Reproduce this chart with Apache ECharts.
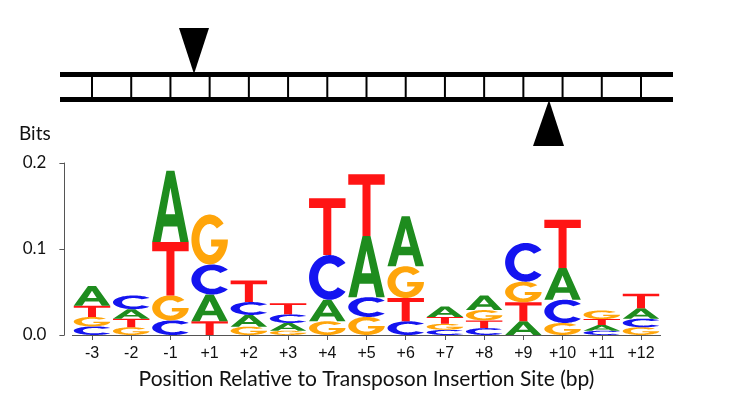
<!DOCTYPE html>
<html>
<head>
<meta charset="utf-8">
<script src="https://cdn.jsdelivr.net/npm/echarts@6/dist/echarts.min.js"></script>
<style>
  html, body { margin: 0; padding: 0; background: #fff; }
  #chart { width: 732px; height: 393px; }
</style>
</head>
<body>
<div id="chart"></div>
<script>
// ---- Data (bits per nucleotide at each position) ----
const positions = ['-3','-2','-1','+1','+2','+3','+4','+5','+6','+7','+8','+9','+10','+11','+12'];
const bitsA = [0.023, 0.011, 0.083, 0.031, 0.0136, 0.009, 0.025, 0.071, 0.058, 0.012, 0.017, 0.016, 0.037, 0.0065, 0.012];
const bitsC = [0.010, 0.016, 0.017, 0.035, 0.015, 0.010, 0.052, 0.023, 0.016, 0.006, 0.008, 0.045, 0.027, 0.005, 0.010];
const bitsG = [0.011, 0.009, 0.029, 0.058, 0.0097, 0.005, 0.016, 0.021, 0.037, 0.007, 0.012, 0.024, 0.014, 0.010, 0.009];
const bitsT = [0.013, 0.010, 0.062, 0.016, 0.025, 0.013, 0.066, 0.072, 0.027, 0.008, 0.009, 0.022, 0.056, 0.007, 0.017];
const yTicks = [0, 0.1, 0.2];

// ---- Glyph outlines (unit box 0..100) ----
function ellPt(cx, cy, rx, ry, deg) {
  const a = deg * Math.PI / 180;
  return [cx + rx * Math.cos(a), cy + ry * Math.sin(a)];
}
function arcPts(rx, ry, from, to, step) {
  const pts = [];
  const dir = to > from ? 1 : -1;
  for (let d = from; dir > 0 ? d <= to : d >= to; d += dir * step) pts.push(ellPt(50, 50, rx, ry, d));
  pts.push(ellPt(50, 50, rx, ry, to));
  return pts;
}
function toPath(pts) {
  return 'M' + pts.map(p => p[0].toFixed(2) + ',' + p[1].toFixed(2)).join(' L') + ' Z';
}
const glyphA = 'M0,100 L39,0 L61,0 L100,100 L77,100 L69,78 L31,78 L23,100 Z M37,61 L63,61 L50,24 Z';
const glyphT = 'M0,0 L100,0 L100,17 L61,17 L61,100 L39,100 L39,17 L0,17 Z';
const glyphC = toPath(arcPts(50, 50, -40, -320, 4).concat(arcPts(28, 31, -315, -45, 4)));
const gInnerStart = Math.asin(14 / 31) * 180 / Math.PI;
const glyphG = toPath(
  arcPts(50, 50, -40, -360, 4)
    .concat([[54, 50], [54, 64]])
    .concat(arcPts(28, 31, gInnerStart - 360, -45, 4))
);

const glyphs = {
  A: { d: glyphA, color: '#1e8c1e' },
  C: { d: glyphC, color: '#1414f0' },
  G: { d: glyphG, color: '#ffa50a' },
  T: { d: glyphT, color: '#ff1414' }
};

const seriesData = positions.map((p, i) => [i, bitsA[i], bitsC[i], bitsG[i], bitsT[i]]);

function renderItem(params, api) {
  const i = api.value(0);
  const vals = [
    { k: 'A', v: api.value(1) },
    { k: 'C', v: api.value(2) },
    { k: 'G', v: api.value(3) },
    { k: 'T', v: api.value(4) }
  ].sort((a, b) => a.v - b.v);
  const band = api.size([1, 0])[0];
  const w = band * 0.93;
  const cx = api.coord([i, 0])[0];
  let cum = 0;
  const children = [];
  vals.forEach(item => {
    const yb = api.coord([i, cum])[1];
    const yt = api.coord([i, cum + item.v])[1];
    cum += item.v;
    const h = yb - yt;
    if (h <= 0.2) return;
    children.push({
      type: 'path',
      shape: { pathData: glyphs[item.k].d, x: cx - w / 2, y: yt, width: w, height: h, layout: 'cover' },
      style: { fill: glyphs[item.k].color }
    });
  });
  return { type: 'group', children: children };
}

const chart = echarts.init(document.getElementById('chart'), null, { renderer: 'canvas' });
const option = {
  animation: false,
  backgroundColor: '#ffffff',
  grid: { left: 72.4, right: 71.4, top: 163, bottom: 58, containLabel: false },
  xAxis: {
    type: 'category',
    data: positions,
    offset: 2,
    boundaryGap: true,
    axisLine: { show: true, lineStyle: { color: '#555', width: 1 } },
    axisTick: { show: true, alignWithLabel: true, length: 5, lineStyle: { color: '#555' } },
    axisLabel: { fontFamily: 'Liberation Sans', fontSize: 16, color: '#111', margin: 9 },
    name: 'Position Relative to Transposon Insertion Site (bp)',
    nameLocation: 'middle',
    nameGap: 32,
    nameTextStyle: { fontFamily: 'Lato', fontSize: 21, color: '#111' }
  },
  yAxis: {
    type: 'value',
    min: yTicks[0],
    max: yTicks[yTicks.length - 1],
    interval: 0.1,
    offset: 8,
    splitLine: { show: false },
    axisLine: { show: true, lineStyle: { color: '#555', width: 1 } },
    axisTick: { show: true, length: 5, lineStyle: { color: '#555' } },
    axisLabel: { fontFamily: 'Lato', fontSize: 17, color: '#111', margin: 18, formatter: v => v.toFixed(1) }
  },
  series: [{
    type: 'custom',
    renderItem: renderItem,
    data: seriesData,
    encode: { x: 0, y: [1, 2, 3, 4] },
    clip: false
  }]
};
chart.setOption(option);

// ---- Decorative DNA ladder diagram above the logo ----
const ladderLeft = 60, ladderRight = 673;
const elems = [
  { type: 'rect', shape: { x: ladderLeft, y: 72, width: ladderRight - ladderLeft, height: 5 }, style: { fill: '#000' } },
  { type: 'rect', shape: { x: ladderLeft, y: 97, width: ladderRight - ladderLeft, height: 5 }, style: { fill: '#000' } },
  { type: 'polygon', shape: { points: [[179, 28], [209, 28], [194, 74]] }, style: { fill: '#000' } },
  { type: 'polygon', shape: { points: [[533, 146], [564, 146], [549, 100]] }, style: { fill: '#000' } },
  { type: 'text', style: { text: 'Bits', x: 19, y: 134, fontFamily: 'Lato', fontSize: 19, fill: '#111', verticalAlign: 'middle' } }
];
positions.forEach((p, i) => {
  const px = chart.convertToPixel({ xAxisIndex: 0 }, p);
  elems.push({ type: 'rect', shape: { x: px - 1, y: 76, width: 2, height: 22 }, style: { fill: '#000' } });
});
chart.setOption({ graphic: { elements: elems } });
</script>
</body>
</html>
